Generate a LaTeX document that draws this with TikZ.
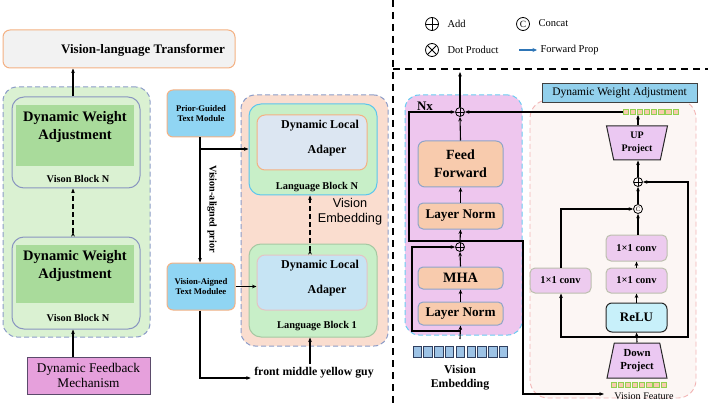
\documentclass[tikz,border=0pt]{standalone}
\usepackage{fontspec}
\setmainfont{Liberation Serif}
\setsansfont{Liberation Sans}
\usetikzlibrary{arrows.meta,shapes.geometric,calc}
\definecolor{vltfill}{HTML}{F2F2F2}
\definecolor{orangeb}{HTML}{F4B183}
\definecolor{gOut}{HTML}{DAF1D2}
\definecolor{gIn}{HTML}{A9DB9B}
\definecolor{dashb}{HTML}{8C9CC8}
\definecolor{blkb}{HTML}{8A96C0}
\definecolor{dfmfill}{HTML}{E6A0DC}
\definecolor{dfmb}{HTML}{5B4B6B}
\definecolor{modb}{HTML}{90D5F3}
\definecolor{salm}{HTML}{FADDCF}
\definecolor{langg}{HTML}{C8EFC8}
\definecolor{cyanb}{HTML}{5CC6EE}
\definecolor{dlaf}{HTML}{DCE6F2}
\definecolor{lang1b}{HTML}{A6C8A2}
\definecolor{dla1f}{HTML}{C6E4F4}
\definecolor{dla1b}{HTML}{E4C4C4}
\definecolor{nxf}{HTML}{EEC6EE}
\definecolor{nxb}{HTML}{6ACCF2}
\definecolor{ffill}{HTML}{F8CBAD}
\definecolor{ffb}{HTML}{8EA4C8}
\definecolor{adf}{HTML}{FCF6F4}
\definecolor{adb}{HTML}{F2B4B4}
\definecolor{dwal}{HTML}{92D0EC}
\definecolor{trapf}{HTML}{EBC8F2}
\definecolor{convf}{HTML}{EDCBEF}
\definecolor{convb}{HTML}{BCBFAE}
\definecolor{reluf}{HTML}{C8F0FA}
\definecolor{vef}{HTML}{9DC3E6}
\definecolor{veb}{HTML}{2F3F5F}
\definecolor{tsqg}{HTML}{92D050}
\definecolor{fpblue}{HTML}{2E75B6}
\begin{document}
\begin{tikzpicture}[x=1pt,y=-1pt,
  fs/.style 2 args={font=\fontsize{#1}{#2}\selectfont},
  fsb/.style 2 args={font=\fontsize{#1}{#2}\selectfont\bfseries},
  arr/.style={-{Stealth[length=4.5pt,width=3.6pt]}, line width=1.1pt},
  dblarr/.style={{Stealth[reversed,length=4.5pt,width=3.6pt]}-{Stealth[length=4.5pt,width=3.6pt]}, line width=1.1pt, dash pattern=on 5pt off 3pt},
  box/.style={draw, rectangle, inner sep=0pt},
  longdash/.style={dash pattern=on 5pt off 3pt},
  addop/.style={circle, draw, inner sep=0pt, minimum size=#1, line width=0.8pt,
    path picture={\draw[line width=0.8pt] (path picture bounding box.north) -- (path picture bounding box.south)
      (path picture bounding box.west) -- (path picture bounding box.east);}},
  addop/.default=9pt,
  dotop/.style={circle, draw, inner sep=0pt, minimum size=#1, line width=0.8pt,
    path picture={\draw[line width=0.8pt] (path picture bounding box.north west) -- (path picture bounding box.south east)
      (path picture bounding box.south west) -- (path picture bounding box.north east);}},
  catop/.style={circle, draw, inner sep=0pt, minimum size=#1, line width=0.8pt},
  vsq/.style={draw=veb, fill=vef, minimum width=8.3pt, minimum height=11pt, inner sep=0pt, line width=0.8pt},
  tsq/.style={draw=tsqg, fill=ffill, minimum size=5.2pt, inner sep=0pt, line width=0.7pt},
  sep/.style={line width=1.6pt, dash pattern=on 7pt off 5pt},
]
\useasboundingbox (0,0) rectangle (708,403);

% ---------------- left part ----------------
\node[box, rounded corners=7pt, fill=vltfill, draw=orangeb, line width=1pt, minimum width=232pt, minimum height=38pt] (vlt) at (119,49) {};
\node[fsb={13}{15}] (vltT) at (143,50) {Vision-language Transformer};

\node[box, rounded corners=14pt, fill=gOut, draw=dashb, longdash, line width=1pt, minimum width=147pt, minimum height=250pt] (gOuter) at (76.5,212) {};

\node[box, rounded corners=12pt, fill=gOut, draw=blkb, line width=1pt, minimum width=128pt, minimum height=91pt] (blkN) at (76,142.5) {};
\node[box, draw=none, fill=gIn, minimum width=118pt, minimum height=61pt] (dwaN) at (75,135.5) {};
\node[fsb={14.5}{18}, align=center] (dwaNT) at (75,127) {Dynamic Weight\\Adjustment};
\node[fsb={10.3}{12}] (blkNT) at (78,179) {Vison Block N};

\node[box, rounded corners=12pt, fill=gOut, draw=blkb, line width=1pt, minimum width=128pt, minimum height=92pt] (blk1) at (76,283) {};
\node[box, draw=none, fill=gIn, minimum width=118pt, minimum height=58pt] (dwa1) at (75,274) {};
\node[fsb={14.5}{18}, align=center] (dwa1T) at (75,266.5) {Dynamic Weight\\Adjustment};
\node[fsb={10.3}{12}] (blk1T) at (78,318) {Vison Block N};

\node[box, fill=dfmfill, draw=dfmb, line width=1pt, minimum width=123pt, minimum height=37pt, fs={13.3}{15.5}, align=center] (dfm) at (88.5,375.5) {Dynamic Feedback\\Mechanism};

\coordinate (ax) at (73,0);
\draw[arr] (blkN.north -| ax) -- (vlt.south -| ax);
\draw[dblarr] (blk1.north -| ax) -- (blkN.south -| ax);
\draw[arr] (dfm.north -| ax) -- (blk1.south -| ax);

% ---------------- middle part ----------------
\node[box, rounded corners=14pt, fill=salm, draw=dashb, longdash, line width=1pt, minimum width=147pt, minimum height=251pt] (salmon) at (314.5,220.5) {};

\node[box, rounded corners=12pt, fill=langg, draw=cyanb, line width=1pt, minimum width=128pt, minimum height=91pt] (langN) at (313,149.5) {};
\node[box, rounded corners=8pt, fill=dlaf, draw=orangeb, line width=1pt, minimum width=110pt, minimum height=55pt] (dlaN) at (312,142.5) {};
\node[fsb={12}{14}] (dlaNa) at (320,126) {Dynamic Local};
\node[fsb={12}{14}] (dlaNb) at (327,151) {Adaper};
\node[fsb={10.4}{12}] (langNT) at (317,187) {Language Block N};

\node[font=\sffamily\fontsize{12.7}{15}\selectfont, align=center] (vemb) at (350,211.5) {Vision\\Embedding};

\node[box, rounded corners=12pt, fill=langg, draw=lang1b, line width=1pt, minimum width=128pt, minimum height=93pt] (lang1) at (313,290.5) {};
\node[box, rounded corners=8pt, fill=dla1f, draw=dla1b, line width=1pt, minimum width=110pt, minimum height=55pt] (dla1) at (312,282.5) {};
\node[fsb={12}{14}] (dla1a) at (320,266) {Dynamic Local};
\node[fsb={12}{14}] (dla1b) at (327,291) {Adaper};
\node[fsb={10.4}{12}] (lang1T) at (317,326) {Language Block 1};

\node[box, rounded corners=6pt, fill=modb, draw=orangeb, line width=1pt, minimum width=68pt, minimum height=47pt, fsb={8.7}{10.5}, align=center] (pgt) at (201,113.5) {Prior-Guided\\Text Module};
\node[box, rounded corners=6pt, fill=modb, draw=orangeb, line width=1pt, minimum width=68pt, minimum height=47pt, fsb={8.7}{10.5}, align=center] (vat) at (201,286.5) {Vision-Aigned\\Text Modulee};

\node[fsb={11.8}{14}] (fmyg) at (314,373) {front middle yellow guy};

\coordinate (bx) at (200,0);
\coordinate (by) at (0,149);
\coordinate (lx) at (310,0);
\draw[arr] (pgt.south -| bx) -- (vat.north -| bx);
\draw[arr] (bx |- by) -- (langN.west |- by);
\node[fsb={10.2}{12}, rotate=-90] (vap) at (212,209) {Vision-aligned prior};
\draw[arr] (vat.east) -- (vat.east -| dla1.west);
\draw[arr] (vat.south -| bx) |- ([yshift=-5pt]fmyg.west);
\draw[arr] (fmyg.north -| lx) -- (lang1.south -| lx);
\draw[dblarr] (dla1.north -| lx) -- (langN.south -| lx);

% ---------------- separators ----------------
\coordinate (s1) at (393,0);
\coordinate (s2) at (393,403);
\coordinate (s3) at (393,69);
\coordinate (s4) at (708,69);
\draw[sep] (s1) -- (s2);
\draw[sep] (s3) -- (s4);

% ---------------- legend ----------------
\node[addop=13pt] (addL) at (432,24) {};
\node[fs={10.5}{12}, anchor=west] (addLT) at (444,24) {Add};
\node[catop=13pt, fs={9.5}{10}] (catL) at (523,24) {C};
\node[fs={10.5}{12}, anchor=west] (catLT) at (535,23.5) {Concat};
\node[dotop=13pt] (dotL) at (432,50) {};
\node[fs={10.5}{12}, anchor=west] (dotLT) at (444,50) {Dot Product};
\coordinate (fpa) at (519,50);
\node[fs={10.5}{12}, anchor=west] (fpT) at (537,50) {Forward Prop};
\draw[-{Stealth[length=4.5pt,width=4pt]}, line width=1.1pt, fpblue] (fpa) -- (fpT.west);

% ---------------- transformer block ----------------
\node[box, rounded corners=14pt, fill=nxf, draw=nxb, longdash, line width=1pt, minimum width=117pt, minimum height=240pt] (nx) at (463.5,215) {};
\node[fsb={13}{15}] (nxT) at (425,106) {Nx};
\node[addop=9pt] (addTop) at (460,112) {};
\node[box, rounded corners=7pt, fill=ffill, draw=ffb, line width=1pt, minimum width=85pt, minimum height=46pt, fsb={14}{18}, align=center] (ff) at (460.5,164) {Feed\\Forward};
\node[box, rounded corners=5pt, fill=ffill, draw=ffb, line width=1pt, minimum width=85pt, minimum height=26pt, fsb={13.2}{15}] (ln2) at (460.5,216) {Layer Norm};
\node[addop=9pt] (addBot) at (460,247) {};
\node[box, rounded corners=5pt, fill=ffill, draw=ffb, line width=1pt, minimum width=85pt, minimum height=22pt, fsb={14.3}{16}] (mha) at (460.5,278) {MHA};
\node[box, rounded corners=5pt, fill=ffill, draw=ffb, line width=1pt, minimum width=85pt, minimum height=23pt, fsb={13.2}{15}] (ln1) at (460.5,313.5) {Layer Norm};
\foreach \i in {0,...,8} {\node[vsq] (ve\i) at ({417.2+\i*10.8},351.5) {};}
\node[fsb={11.8}{14}, align=center] (veT) at (460,378) {Vision\\Embedding};

\coordinate (vin) at (460,339);
\coordinate (r1) at (460,331);
\coordinate (rl1) at (412,0);
\coordinate (r2) at (460,241);
\coordinate (rl2) at (409,0);
\coordinate (rr2) at (523,0);
\coordinate (tout) at (460,72);

\draw[arr] (vin) -- (ln1.south);
\draw[arr] (ln1.north) -- (mha.south);
\draw[arr] (mha.north) -- (addBot.south);
\draw[arr] (addBot.north) -- (ln2.south);
\draw[arr] (ln2.north) -- (ff.south);
\draw[arr] (ff.north) -- (addTop.south);
\draw[arr] (addTop.north) -- (tout);
\draw[arr] (r1) -- (r1 -| rl1) -- (rl1 |- addBot.west) -- (addBot.west);
\draw[arr] (r2) -- (r2 -| rl2) -- (rl2 |- addTop.west) -- (addTop.west);

% ---------------- adapter ----------------
\node[box, rounded corners=18pt, fill=adf, draw=adb, longdash, line width=0.9pt, minimum width=166pt, minimum height=298pt] (adbox) at (613,249) {};
\node[box, fill=dwal, draw=black!75, line width=0.9pt, minimum width=155pt, minimum height=19pt, fs={11.5}{13}] (dwaL) at (619.5,92.5) {Dynamic Weight Adjustment};
\foreach \i in {0,...,7} {\node[tsq] (tq\i) at ({625.8+\i*7.1},112) {};}
\node[trapezium, trapezium angle=77.6, trapezium stretches=true, shape border rotate=180, minimum width=61pt, minimum height=34pt, inner sep=0pt, fill=trapf, draw=black!85, line width=1pt, fsb={10}{13}, align=center] (up) at (637,143) {UP\\Project};
\node[addop=9pt] (addR) at (638,182) {};
\node[catop=9pt, fs={6.5}{7}] (catR) at (638,209) {C};
\node[box, rounded corners=5pt, fill=convf, draw=convb, line width=1pt, minimum width=61pt, minimum height=26pt, fsb={10.5}{12}] (conv1) at (636.5,248) {1×1 conv};
\node[box, rounded corners=5pt, fill=convf, draw=convb, line width=1pt, minimum width=61pt, minimum height=25pt, fsb={10.5}{12}] (conv2) at (636.5,280.5) {1×1 conv};
\node[box, rounded corners=6pt, fill=reluf, draw=black!85, line width=1pt, minimum width=61pt, minimum height=29pt, fsb={13}{15}] (relu) at (636.5,317.5) {ReLU};
\node[box, rounded corners=5pt, fill=convf, draw=convb, line width=1pt, minimum width=61pt, minimum height=25pt, fsb={10.5}{12}] (convL) at (560.5,280.5) {1×1 conv};
\node[trapezium, trapezium angle=76.3, trapezium stretches=true, minimum width=60pt, minimum height=35pt, inner sep=0pt, fill=trapf, draw=black!85, line width=1pt, fsb={10.8}{12.5}, align=center] (down) at (637,360.5) {Down\\Project};
\foreach \i in {0,...,7} {\node[tsq] (bq\i) at ({613.8+\i*7.1},384.5) {};}
\node[fs={10.1}{12}] (vf) at (644,396.5) {Vision Feature};

\coordinate (j) at (638,337);
\coordinate (rx) at (688,0);
\coordinate (lx2) at (561,0);

\draw[arr] (down.north) -- (relu.south);
\draw[arr] (relu.north) -- (conv2.south);
\draw[arr] (conv2.north) -- (conv1.south);
\draw[arr] (conv1.north -| catR) -- (catR.south);
\draw[arr] (catR.north) -- (addR.south);
\draw[arr] (addR.north) -- (up.south -| addR);
\draw[arr] (up.north -| addR) -- (tq1.south -| addR);
\draw[arr] (j) -- (j -| lx2) -- (convL.south -| lx2);
\draw[arr] (convL.north -| lx2) |- (catR.west);
\draw[arr] (j) -- (j -| rx) |- (addR.east);
\draw[arr] (tq0.west) -- (addTop.east);
\draw[arr] (r2) -- (r2 -| rr2) |- ([xshift=-7pt,yshift=2.5pt]vf.west);
\end{tikzpicture}
\end{document}
